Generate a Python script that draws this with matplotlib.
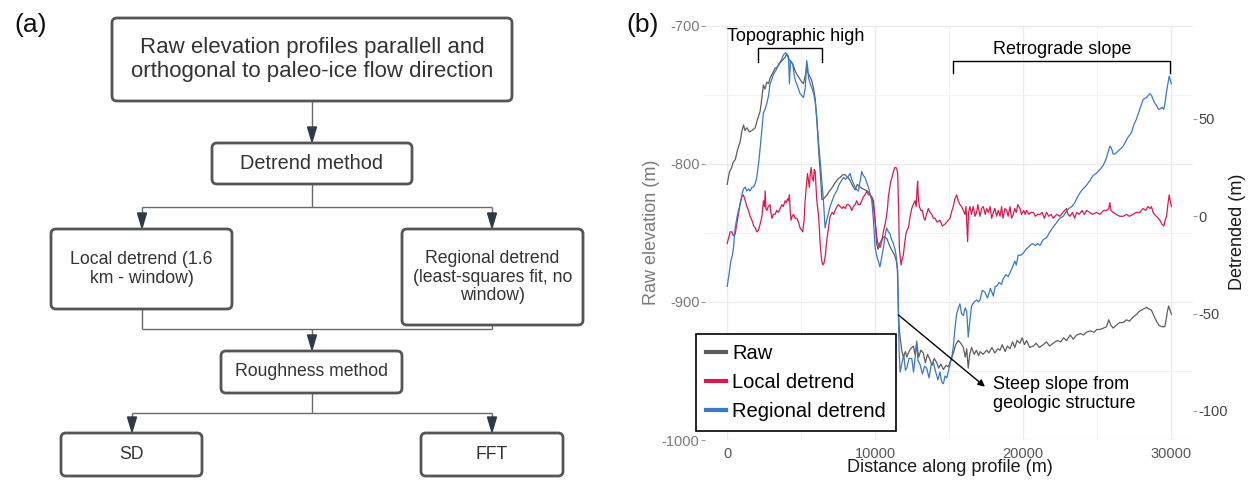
import matplotlib
matplotlib.use('Agg')
import matplotlib.pyplot as plt
from matplotlib.patches import FancyBboxPatch, Polygon
from matplotlib.lines import Line2D

plt.rcParams['font.family'] = ['Liberation Sans', 'DejaVu Sans']
plt.rcParams['axes.unicode_minus'] = False

# ---- profile data (distance in m) ----
raw_x = [0, 150, 300, 400, 550, 700, 880, 1000, 1110, 1200, 1330, 1500, 1670, 1800, 1890,
         2050, 2230, 2350, 2450, 2560, 2680, 2800, 2900, 3050, 3240, 3400, 3580, 3750, 3920,
         4000, 4080, 4150, 4300, 4440, 4600, 4750, 4930, 5050, 5160, 5300, 5380, 5450, 5600,
         5720, 5850, 5950, 6050, 6170, 6250, 6330, 6400, 6550, 6740, 6900, 7050, 7180, 7350,
         7500, 7640, 7800, 7970, 8150, 8310, 8480, 8650, 8800, 8990, 9150, 9320, 9500, 9660,
         9800, 9890, 10000, 10110, 10200, 10300, 10450, 10600, 10790, 10900, 11010, 11200,
         11350, 11450, 11510, 11560, 11580, 11640, 11690, 11800, 11910, 12050, 12150, 12250,
         12400, 12590, 12700, 12820, 12950, 13100, 13260, 13400, 13550, 13720, 13850, 14000,
         14170, 14300, 14450, 14620, 14800, 14950, 15100, 15290, 15450, 15630, 15800, 15970,
         16100, 16200, 16300, 16400, 16530, 16700, 16850, 17000, 17100, 17300, 17550, 17700,
         17900, 18100, 18300, 18450, 18600, 18800, 18950, 19120, 19300, 19450, 19600, 19800,
         19950, 20100, 20250, 20450, 20700, 20900, 21100, 21370, 21600, 21800, 22050, 22300,
         22550, 22750, 22950, 23200, 23400, 23630, 23900, 24100, 24300, 24550, 24800, 25000,
         25200, 25450, 25650, 25800, 25950, 26100, 26300, 26550, 26780, 27000, 27200, 27450,
         27700, 27850, 28020, 28200, 28360, 28500, 28690, 28850, 29030, 29200, 29370, 29590,
         29700, 29750, 29850, 29950, 30040]
raw_z = [-815, -806, -803, -799, -797, -790, -784, -776, -772, -776, -774, -777, -776, -775, -774,
         -768, -762, -752, -743, -746, -741, -742, -738, -735, -731, -730, -727, -725, -723,
         -721, -722, -724, -726, -728, -733, -736, -739, -741, -742, -735, -729, -734, -737,
         -740, -746, -753, -766, -788, -800, -812, -826, -825, -823, -820, -818, -816, -813,
         -811, -810, -808, -808, -810, -812, -816, -819, -815, -817, -818, -819, -820, -822,
         -826, -831, -841, -858, -862, -858, -855, -853, -854, -857, -860, -864,
         -867, -871, -877, -895, -908, -920, -925, -935, -940, -936, -940, -937,
         -934, -932, -938, -930, -940, -935, -937, -944, -938, -942, -946, -941,
         -944, -948, -945, -949, -946, -947, -943, -937, -931, -928, -930, -933,
         -940, -934, -948, -938, -933, -938, -935, -939, -936, -938, -935, -937,
         -933, -937, -934, -935, -931, -936, -932, -934, -929, -933, -928, -930,
         -926, -931, -928, -933, -932, -930, -933, -931, -929, -932, -930, -928,
         -929, -926, -928, -924, -927, -924, -923, -924, -922, -921, -922, -920,
         -920, -919, -918, -913, -917, -919, -917, -915, -915, -913, -914, -911,
         -909, -907, -906, -905, -904, -905, -906, -910, -914, -917, -918, -918,
         -912, -908, -903, -906, -909]

local_x = [0, 100, 200, 320, 420, 540, 650, 760, 880, 990, 1100, 1220, 1330, 1440, 1550, 1670,
           1800, 1900, 2000, 2120, 2230, 2350, 2450, 2520, 2570, 2620, 2680, 2780, 2900, 2960,
           3020, 3130, 3240, 3350, 3450, 3580, 3700, 3800, 3920, 4000, 4080, 4150, 4210, 4270,
           4320, 4400, 4490, 4600, 4710, 4820, 4930, 5030, 5110, 5200, 5270, 5350, 5430, 5500,
           5560, 5620, 5680, 5750, 5830, 5890, 5950, 6000, 6060, 6120, 6170, 6230, 6280, 6340,
           6400, 6470, 6550, 6640, 6740, 6850, 6960, 7100, 7200, 7300, 7420, 7520, 7650, 7760,
           7860, 7980, 8100, 8200, 8320, 8420, 8530, 8650, 8760, 8870, 8990, 9100, 9210, 9320,
           9440, 9550, 9660, 9780, 9890, 9950, 10000, 10080, 10160, 10250, 10340, 10450, 10560,
           10680, 10790, 10850, 10900, 10980, 11060, 11150, 11240, 11330, 11420, 11480, 11530,
           11570, 11600, 11640, 11700, 11760, 11830, 11910, 12000, 12090, 12170, 12250, 12350,
           12480, 12580, 12700, 12780, 12840, 12880, 12930, 13000, 13100, 13200, 13300, 13380,
           13480, 13600, 13720, 13830, 13940, 14050, 14200, 14390, 14550, 14730, 14850, 14950,
           15070, 15200, 15290, 15400, 15520, 15620, 15740, 15850, 15970, 16080, 16150, 16200,
           16260, 16320, 16420, 16520, 16640, 16760, 16870, 16950, 17100, 17200, 17320, 17450,
           17550, 17660, 17780, 17880, 18000, 18100, 18220, 18330, 18450, 18560, 18650, 18780,
           18900, 19000, 19120, 19230, 19350, 19450, 19550, 19650, 19800, 19900, 20050, 20150,
           20250, 20400, 20550, 20700, 20850, 21000, 21150, 21300, 21450, 21600, 21750, 21900,
           22050, 22280, 22500, 22700, 22950, 23050, 23180, 23350, 23500, 23630, 23800, 24000,
           24150, 24300, 24500, 24700, 24980, 25200, 25450, 25650, 25800, 25880, 25950, 26100,
           26300, 26550, 26780, 27000, 27200, 27450, 27650, 27900, 28130, 28300, 28450, 28600,
           28690, 28800, 28900, 29030, 29150, 29260, 29400, 29530, 29620, 29710, 29800, 29890,
           29960, 30040]
local_d = [-14, -11, -8, -8, -10, -9, -4, 1, 7, 10, 11, 8, 5, 3, 0, -2,
           -5, -6, -8, -7, -4, 0, 8, 5, 13, 4, 3, 5, 6, 2,
           -1, 1, 1, 3, 2, 4, 6, 5, 8, 7, 9, 8, 11, 2,
           -2, 0, 1, -1, -1, -3, -6, -7, -8, -2, 8, 15, 22, 18,
           15, 22, 25, 20, 18, 24, 23, 16, 8, 4, 1, -6, -13, -19,
           -23, -25, -24, -20, -12, -6, 0, 2, 1, 3, 5, 6, 5, 4,
           5, 4, 6, 6, 5, 3, 5, 6, 8, 6, 6, 8, 10, 11,
           13, 11, 11, 10, 8, 3, -2, -8, -13, -15, -16, -13, -8,
           -4, 1, 5, 10, 14, 18, 20, 23, 25, 25, 24, 22,
           10, 1, -16, -21, -25, -22, -20, -14, -9, -7, -6, -1,
           4, 6, 8, 5, 14, 18, 9, 5, 3, 3, -1, -2,
           1, 4, 2, 1, -1, -1, -3, -2, -5, -4, -3, -2,
           -1, 3, 5, 9, 11, 8, 6, 5, 3, 1, 5, -3,
           -13, 2, 5, 1, 5, 0, 2, 6, 0, 4, 5, 1,
           4, 2, 5, -1, 2, 4, 0, 3, 0, 5, -1, 4,
           3, 0, 5, -1, 1, 4, 2, 6, 4, 1, 3, 1,
           3, 1, 2, 2, 0, 1, 1, 2, -1, 2, 0, 1,
           -1, 1, 0, 2, 4, 1, 0, 2, -1, 2, 1, 3,
           1, 3, 2, 1, 2, 1, 3, 3, 4, 7, 3, 2,
           1, 0, 0, 1, 0, 1, 2, 2, 4, 3, 5, 4,
           5, 2, 1, 0, -1, -2, -4, -5, -2, 0, 6, 11,
           8, 5]

regional_x = [0, 120, 250, 350, 430, 540, 650, 760, 880, 990, 1100, 1220, 1330, 1450, 1550, 1680,
              1780, 1900, 2000, 2120, 2230, 2350, 2450, 2560, 2680, 2800, 2900, 3000, 3130, 3300,
              3470, 3650, 3810, 3950, 4080, 4150, 4210, 4280, 4440, 4520, 4600, 4750, 4930, 5050,
              5160, 5280, 5380, 5450, 5500, 5620, 5720, 5850, 5950, 6060, 6170, 6250, 6330, 6420,
              6510, 6580, 6620, 6700, 6800, 6960, 7100, 7250, 7410, 7550, 7700, 7860, 8000, 8150,
              8310, 8420, 8530, 8700, 8870, 8990, 9100, 9200, 9320, 9450, 9550, 9680, 9780, 9890,
              9950, 10000, 10100, 10220, 10330, 10450, 10570, 10700, 10790, 10900, 11010, 11120,
              11240, 11350, 11420, 11530, 11580, 11620, 11690, 11800, 11940, 12050, 12140, 12300,
              12480, 12600, 12750, 12820, 12900, 13040, 13200, 13350, 13490, 13650, 13800, 13940,
              14100, 14250, 14390, 14500, 14620, 14730, 14850, 14950, 15070, 15200, 15290, 15400,
              15520, 15640, 15740, 15850, 15970, 16100, 16200, 16300, 16420, 16530, 16700, 16870,
              17000, 17100, 17250, 17430, 17600, 17800, 18000, 18120, 18220, 18400, 18550, 18670,
              18850, 19000, 19120, 19300, 19450, 19550, 19680, 19850, 20020, 20200, 20350, 20470,
              20650, 20850, 21000, 21150, 21370, 21600, 21820, 22000, 22200, 22500, 22720, 22900,
              23100, 23300, 23510, 23700, 23850, 24050, 24300, 24500, 24750, 24950, 25200, 25420,
              25600, 25760, 25880, 25990, 26100, 26220, 26500, 26780, 27050, 27340, 27500, 27680,
              27900, 28130, 28350, 28580, 28700, 28800, 28920, 29030, 29150, 29260, 29400, 29530,
              29620, 29710, 29800, 29890, 29960, 30040]
regional_d = [-36, -30, -23, -20, -16, -6, -1, 3, 6, 11, 14, 15, 13, 14, 13, 15,
              15, 17, 20, 27, 35, 45, 53, 55, 58, 62, 68, 70, 73, 75,
              78, 80, 83, 84, 83, 82, 68, 80, 78, 73, 70, 67, 63, 62,
              61, 66, 80, 76, 71, 68, 66, 63, 59, 50, 39, 32, 25, 16,
              8, -1, -6, -3, 0, 5, 8, 11, 13, 16, 18, 20, 19, 20,
              22, 19, 17, 14, 13, 18, 23, 21, 20, 17, 15, 11, 8, -2,
              -10, -16, -20, -23, -26, -21, -16, -9, -6, -8, -9, -12,
              -14, -17, -20, -28, -50, -68, -80, -76, -71, -79, -78, -73,
              -73, -80, -70, -64, -74, -76, -81, -77, -78, -83, -76, -75,
              -80, -84, -80, -85, -86, -82, -83, -80, -76, -72, -67, -58,
              -50, -47, -45, -50, -51, -47, -49, -62, -53, -46, -44, -43,
              -44, -43, -38, -39, -42, -37, -41, -36, -36, -34, -35, -32,
              -30, -31, -29, -26, -23, -25, -20, -20, -19, -17, -16, -15,
              -14, -15, -14, -15, -12, -11, -8, -6, -4, -1, 0, 2,
              4, 5, 7, 10, 12, 14, 16, 18, 21, 22, 24, 26,
              29, 33, 36, 35, 32, 32, 34, 36, 40, 43, 47, 50,
              55, 60, 61, 63, 62, 60, 58, 57, 55, 55, 56, 55,
              59, 64, 68, 72, 70, 68]

series_names = ['Raw', 'Local detrend', 'Regional detrend']
series_colors = ['#5e5e5e', '#d81b4f', '#3a78c8']

# flowchart boxes: (left, top, right, bottom, text, fontsize), pixel units
flow_boxes = [
    (112, 18, 512, 101, 'Raw elevation profiles parallell and\northogonal to paleo-ice flow direction', 16),
    (212, 143, 412, 184, 'Detrend method', 14.3),
    (51, 229, 232, 309, 'Local detrend (1.6\nkm - window)', 12.7),
    (402, 229, 583, 325, 'Regional detrend\n(least-squares fit, no\nwindow)', 12.7),
    (221, 351, 402, 393, 'Roughness method', 12.7),
    (61, 433, 202, 476, 'SD', 12.7),
    (421, 433, 563, 476, 'FFT', 12.7),
]

W, H = 1259, 484
fig = plt.figure(figsize=(W / 100, H / 100), dpi=100)

# full-figure canvas in pixel coordinates for the flowchart and labels
cv = fig.add_axes([0, 0, 1, 1])
cv.set_xlim(0, W)
cv.set_ylim(H, 0)
cv.axis('off')

line_col = '#6a6a6a'
head_col = '#2f3a47'


def head(x, ytip):
    cv.add_patch(Polygon([(x - 4.5, ytip - 15), (x + 4.5, ytip - 15), (x, ytip)],
                         closed=True, color=head_col, zorder=3))


def link(xs, ys):
    cv.plot(xs, ys, color=line_col, lw=1.0, zorder=2, solid_capstyle='butt')


for (l, t, r, b, txt, fs) in flow_boxes:
    cv.add_patch(FancyBboxPatch((l, t), r - l, b - t, boxstyle='round,pad=0,rounding_size=5',
                                fc='white', ec='#555555', lw=2.0, zorder=4))
    cv.text((l + r) / 2, (t + b) / 2, txt, ha='center', va='center', fontsize=fs,
            color='#333333', linespacing=1.15, zorder=5)

# top -> detrend
link([312, 312], [101, 135])
head(312, 142)
# detrend -> local / regional
link([312, 312], [184, 207])
link([142, 492], [207, 207])
link([142, 142], [207, 222])
link([492, 492], [207, 222])
head(142, 228)
head(492, 228)
# local / regional -> roughness
link([142, 142], [309, 329])
link([492, 492], [325, 329])
link([142, 492], [329, 329])
link([312, 312], [329, 343])
head(312, 350)
# roughness -> SD / FFT
link([312, 312], [393, 413])
link([132, 492], [413, 413])
link([132, 132], [413, 426])
link([492, 492], [413, 426])
head(132, 432)
head(492, 432)

cv.text(31, 25, '(a)', ha='center', va='center', fontsize=19, color='#111111')
cv.text(643, 25, '(b)', ha='center', va='center', fontsize=19, color='#111111')

# ---- profile plot ----
ax = fig.add_axes([705 / W, 44 / H, 488 / W, 414.5 / H])
ax.set_xlim(-1500, 31500)
ax.set_ylim(-1000, -700)
ax.set_yticks([-1000, -900, -800, -700])
ax.set_yticks([-950, -850, -750], minor=True)
ax.set_xticks([0, 10000, 20000, 30000])
ax.set_xticks([5000, 15000, 25000], minor=True)
ax.grid(True, which='major', color='#ebebeb', lw=0.9)
ax.grid(True, which='minor', color='#f3f3f3', lw=0.7)
ax.set_axisbelow(True)
for s in ax.spines.values():
    s.set_visible(False)
ax.tick_params(axis='y', which='major', length=3, width=0.8, color='#999999',
               labelsize=10.5, labelcolor='#7a7a7a', pad=1)
ax.tick_params(axis='x', which='major', length=0, labelsize=10.5, labelcolor='#555555', pad=5)
ax.tick_params(which='minor', length=0)

ax.plot(raw_x, raw_z, color=series_colors[0], lw=0.9, zorder=2)

ax2 = ax.twinx()
ax2.set_ylim(-114.9, 98.0)
ax2.set_yticks([-100, -50, 0, 50])
for s in ax2.spines.values():
    s.set_visible(False)
ax2.tick_params(axis='y', length=3, width=0.8, color='#999999', labelsize=10.5,
                labelcolor='#444444', pad=1)
ax2.plot(local_x, local_d, color=series_colors[1], lw=0.9, zorder=2)
ax2.plot(regional_x, regional_d, color=series_colors[2], lw=0.9, zorder=3)

# annotations, given in raw-elevation coordinates
T = ax.transData
ax2.plot([2070, 2070, 6440, 6440], [-726.6, -716, -716, -726.6], color='black', lw=1.0,
         transform=T, zorder=4)
ax2.text(4660, -707.6, 'Topographic high', transform=T, ha='center', va='center', fontsize=13)
ax2.plot([15270, 15270, 29930, 29930], [-734.5, -725.5, -725.5, -734.5], color='black', lw=1.0,
         transform=T, zorder=4)
ax2.text(22640, -717.7, 'Retrograde slope', transform=T, ha='center', va='center', fontsize=13)
ax2.annotate('', xy=(17430, -961.4), xytext=(11580, -909.5), xycoords=T, textcoords=T,
             arrowprops=dict(arrowstyle='-|>', color='black', lw=1.0, mutation_scale=10,
                             shrinkA=0, shrinkB=0), zorder=5)
ax2.text(17970, -966.6, 'Steep slope from\ngeologic structure', transform=T, ha='left',
         va='center', fontsize=13, linespacing=1.2)

handles = [Line2D([], [], color=c, lw=3) for c in series_colors]
leg = ax2.legend(handles, series_names, loc='lower left', bbox_to_anchor=(696 / W, 1 - 431 / H),
                 bbox_transform=fig.transFigure, fontsize=14.5, handlelength=1.0,
                 handletextpad=0.3, borderpad=0.5, labelspacing=0.5, borderaxespad=0,
                 frameon=True, fancybox=False, framealpha=1, edgecolor='black')
leg.get_frame().set_linewidth(1.2)
leg.set_zorder(10)

cv.text(652, 232, 'Raw elevation (m)', rotation=90, ha='center', va='center', fontsize=13,
        color='#7a7a7a')
cv.text(1238, 232, 'Detrended (m)', rotation=90, ha='center', va='center', fontsize=13,
        color='#1a1a1a')
cv.text(950, 468, 'Distance along profile (m)', ha='center', va='center', fontsize=13,
        color='#1a1a1a')

fig.savefig('out.png', dpi=100)
